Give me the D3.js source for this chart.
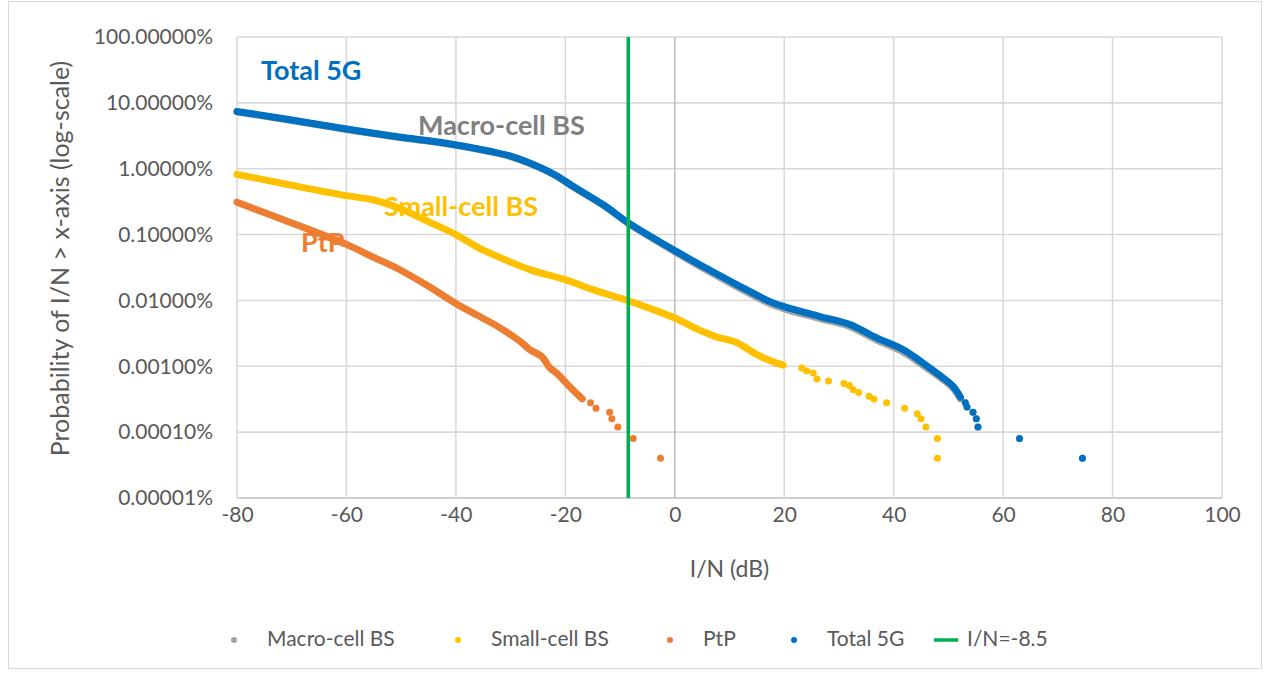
<!DOCTYPE html>
<html>
<head>
<meta charset="utf-8">
<script src="https://cdn.jsdelivr.net/npm/d3@7"></script>
<style>
  body { margin: 0; background: #fff; }
  svg { display: block; font-family: Lato, "Open Sans", sans-serif; }
</style>
</head>
<body>
<svg id="chart" width="1268" height="675"></svg>
<script>
// # DATA
// # ------------------------------
var xTicks = [-80, -60, -40, -20, 0, 20, 40, 60, 80, 100];
var yTicks = [100, 10, 1, 0.1, 0.01, 0.001, 0.0001, 0.00001];
var thresholdIN = -8.5;

// I/N (dB), probability (%) - dense part of each curve, then the loose points
var macroCurve = [[-80, 7.3], [-70, 5.4], [-60, 3.95], [-50, 2.95], [-42.9, 2.48], [-33.8, 1.82],
  [-30, 1.53], [-24.7, 1.04], [-21.6, 0.77], [-18.6, 0.53], [-12.4, 0.255], [-8.6, 0.15], [0, 0.055],
  [5.1, 0.031], [11.3, 0.0162], [17.4, 0.0089], [20.1, 0.0074], [26.5, 0.0053], [32, 0.0040],
  [36.9, 0.0025], [41.7, 0.00165], [45.3, 0.00104], [49, 0.00063], [50.9, 0.00046], [52.2, 0.00032]];
var macroTail = [[53.1, 0.00028], [53.4, 0.00024], [54.5, 0.0002], [55.1, 0.00016], [55.4, 0.00012],
  [63.0, 0.00008], [74.5, 0.00004]];

var smallCurve = [[-80, 0.82], [-70, 0.56], [-60, 0.39], [-55, 0.335], [-50, 0.245], [-45, 0.157],
  [-40, 0.10], [-36, 0.064], [-32, 0.045], [-26.5, 0.0294], [-20, 0.0207], [-15, 0.0146], [-8.5, 0.0099],
  [-4, 0.0073], [0, 0.0054], [5, 0.0034], [7.6, 0.0028], [11.3, 0.0023], [15, 0.0015], [17.5, 0.00121],
  [19.8, 0.00104]];
var smallTail = [[23.2, 0.00094], [24.1, 0.00085], [25.3, 0.00079], [26.0, 0.00064], [28.1, 0.0006],
  [30.9, 0.00055], [31.9, 0.00051], [32.6, 0.00044], [33.6, 0.0004], [35.5, 0.00035], [36.4, 0.00032],
  [38.7, 0.00028], [42.0, 0.00023], [44.3, 0.00019], [45.0, 0.00016], [45.9, 0.00012], [48.0, 0.00008],
  [48.0, 0.00004]];

var ptpCurve = [[-80, 0.31], [-70, 0.15], [-60, 0.071], [-55, 0.045], [-50.5, 0.03], [-45, 0.0164],
  [-40, 0.009], [-36, 0.0059], [-32.3, 0.004], [-28, 0.0023], [-26.5, 0.00179], [-24.3, 0.0014],
  [-22.8, 0.00094], [-21.6, 0.00079], [-19.2, 0.00049], [-16.9, 0.00032]];
var ptpTail = [[-15.4, 0.00028], [-14.4, 0.00023], [-11.9, 0.0002], [-11.5, 0.00016], [-10.4, 0.00012],
  [-7.6, 0.00008], [-2.6, 0.00004]];

var totalCurve = [[-80, 7.4], [-70, 5.5], [-60, 4.0], [-50, 3.0], [-42.9, 2.52], [-33.8, 1.84],
  [-30, 1.55], [-24.7, 1.05], [-21.6, 0.78], [-18.6, 0.54], [-12.4, 0.26], [-8.6, 0.153], [0, 0.057],
  [5.1, 0.033], [11.3, 0.0174], [17.4, 0.0096], [20.1, 0.0080], [26.5, 0.0057], [32, 0.0043],
  [36.9, 0.0027], [41.7, 0.0018], [45.3, 0.00113], [49, 0.00067], [50.9, 0.00049], [52.2, 0.00034]];
var totalTail = [[53.1, 0.00028], [53.4, 0.00024], [54.5, 0.0002], [55.1, 0.00016], [55.4, 0.00012],
  [63.0, 0.00008], [74.5, 0.00004]];

var series = [
  {name: "Macro-cell BS", color: "#a5a5a5", curve: macroCurve, tail: macroTail},
  {name: "Small-cell BS", color: "#ffc000", curve: smallCurve, tail: smallTail},
  {name: "PtP",           color: "#ed7d31", curve: ptpCurve,   tail: ptpTail},
  {name: "Total 5G",      color: "#0070c0", curve: totalCurve, tail: totalTail}
];

// # LAYOUT
// # ------------------------------
var svg = d3.select("#chart");
var plotLeft = 237, plotRight = 1222, plotTop = 37, plotBottom = 498;

var x = d3.scaleLinear().domain([-80, 100]).range([plotLeft, plotRight]);
var y = d3.scaleLog().domain([0.00001, 100]).range([plotBottom, plotTop]);

var formatPct = function(d) { return d3.format(".5f")(d) + "%"; };
var formatDb  = function(d) { return String(d); };

// chart border
svg.append("rect")
  .attr("x", 8.5).attr("y", 1.5)
  .attr("width", 1253).attr("height", 667)
  .attr("fill", "none")
  .attr("stroke", "#d9d9d9");

// ## gridlines
// # ------------------------------
svg.append("g").selectAll("line")
  .data(yTicks).enter().append("line")
  .attr("x1", plotLeft).attr("x2", plotRight)
  .attr("y1", function(d) { return y(d); })
  .attr("y2", function(d) { return y(d); })
  .attr("stroke", function(d) { return d == 0.00001 ? "#bfbfbf" : "#d9d9d9"; })
  .attr("stroke-width", 1.6);

svg.append("g").selectAll("line")
  .data(xTicks).enter().append("line")
  .attr("x1", function(d) { return x(d); })
  .attr("x2", function(d) { return x(d); })
  .attr("y1", plotTop).attr("y2", plotBottom)
  .attr("stroke", function(d) { return d == 0 ? "#bfbfbf" : "#d9d9d9"; })
  .attr("stroke-width", 1.6);

// ## axes
// # ------------------------------
svg.append("g")
  .attr("transform", "translate(" + plotLeft + ",0)")
  .call(d3.axisLeft(y).tickValues(yTicks).tickFormat(formatPct).tickSize(0).tickPadding(24));

svg.append("g")
  .attr("transform", "translate(0," + plotBottom + ")")
  .call(d3.axisBottom(x).tickValues(xTicks).tickFormat(formatDb).tickSize(0).tickPadding(9));

svg.selectAll(".domain").remove();
svg.selectAll(".tick text")
  .attr("fill", "#595959")
  .style("font-family", "Lato")
  .style("font-size", "21px");

svg.append("text")
  .attr("x", (plotLeft + plotRight) / 2).attr("y", 577)
  .attr("text-anchor", "middle")
  .attr("fill", "#595959")
  .style("font-size", "23px")
  .text("I/N (dB)");

svg.append("text")
  .attr("transform", "translate(69," + ((plotTop + plotBottom) / 2 - 9) + ") rotate(-90)")
  .attr("text-anchor", "middle")
  .attr("fill", "#595959")
  .style("font-size", "25px")
  .text("Probability of I/N > x-axis (log-scale)");

// ## series
// # ------------------------------
var line = d3.line()
  .x(function(d) { return x(d[0]); })
  .y(function(d) { return y(d[1]); })
  .curve(d3.curveCatmullRom.alpha(0.5));

series.forEach(function(s) {
  var g = svg.append("g");
  g.append("path")
    .attr("d", line(s.curve))
    .attr("fill", "none")
    .attr("stroke", s.color)
    .attr("stroke-width", 7)
    .attr("stroke-linecap", "round")
    .attr("stroke-linejoin", "round");
  g.selectAll("circle")
    .data(s.tail).enter().append("circle")
    .attr("cx", function(d) { return x(d[0]); })
    .attr("cy", function(d) { return y(d[1]); })
    .attr("r", 3.5)
    .attr("fill", s.color);
});

// threshold line
svg.append("line")
  .attr("x1", x(thresholdIN)).attr("x2", x(thresholdIN))
  .attr("y1", plotTop).attr("y2", plotBottom)
  .attr("stroke", "#00b050")
  .attr("stroke-width", 3.5);

// ## labels in plot
// # ------------------------------
var notes = [
  {text: "Total 5G",      color: "#0070c0", px: 261, py: 80},
  {text: "Macro-cell BS", color: "#808080", px: 418, py: 135},
  {text: "Small-cell BS", color: "#ffc000", px: 384, py: 216},
  {text: "PtP",           color: "#ed7d31", px: 301, py: 252}
];
svg.append("g").selectAll("text")
  .data(notes).enter().append("text")
  .attr("x", function(d) { return d.px; })
  .attr("y", function(d) { return d.py; })
  .attr("fill", function(d) { return d.color; })
  .style("font-size", "27px")
  .style("font-weight", "bold")
  .text(function(d) { return d.text; });

// ## legend
// # ------------------------------
var legendY = 639;
var legendPos = [234, 458, 670, 794];
var legend = svg.append("g");
series.forEach(function(s, i) {
  legend.append("circle")
    .attr("cx", legendPos[i]).attr("cy", legendY + 1)
    .attr("r", 3).attr("fill", s.color);
  legend.append("text")
    .attr("x", legendPos[i] + 33).attr("y", legendY)
    .attr("dy", "0.35em")
    .attr("fill", "#595959")
    .style("font-size", "21px")
    .text(s.name);
});
legend.append("line")
  .attr("x1", 934).attr("x2", 958)
  .attr("y1", legendY + 1).attr("y2", legendY + 1)
  .attr("stroke", "#00b050").attr("stroke-width", 3.5);
legend.append("text")
  .attr("x", 967).attr("y", legendY)
  .attr("dy", "0.35em")
  .attr("fill", "#595959")
  .style("font-size", "21px")
  .text("I/N=" + thresholdIN);
</script>
</body>
</html>
